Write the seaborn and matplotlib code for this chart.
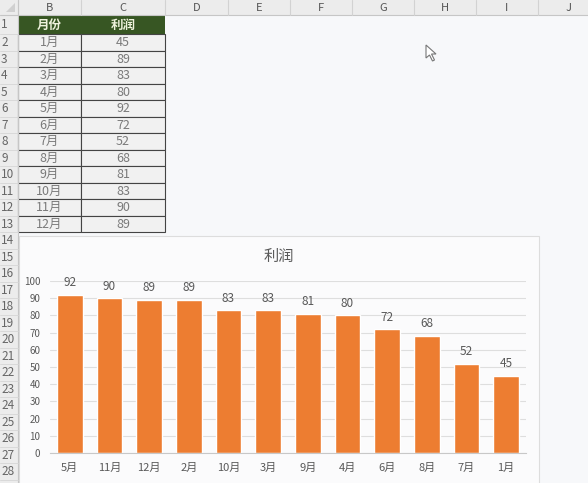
import numpy as np
import pandas as pd
import matplotlib
matplotlib.use("Agg")
import matplotlib.pyplot as plt
from matplotlib.patches import Rectangle, Polygon
import seaborn as sns

# ---------------- data ----------------
months = ["1月", "2月", "3月", "4月", "5月", "6月", "7月", "8月", "9月", "10月", "11月", "12月"]
profits = [45, 89, 83, 80, 92, 72, 52, 68, 81, 83, 90, 89]
chart_order = ["5月", "11月", "12月", "2月", "10月", "3月", "9月", "4月", "6月", "8月", "7月", "1月"]
header_labels = ["月份", "利润"]
col_letters = ["B", "C", "D", "E", "F", "G", "H", "I", "J"]
chart_title = "利润"
y_ticks = [0, 10, 20, 30, 40, 50, 60, 70, 80, 90, 100]

sns.set_theme(style="white")
plt.rcParams['font.family'] = ['Noto Sans CJK SC', 'DejaVu Sans']

W, H = 588, 483
fig = plt.figure(figsize=(W / 100, H / 100), dpi=100)
fig.patch.set_facecolor("#f7f8fa")

# ---------------- spreadsheet backdrop ----------------
bg = fig.add_axes([0, 0, 1, 1])
bg.set_xlim(0, W)
bg.set_ylim(H, 0)
bg.axis('off')

col_edges = [18, 81, 165, 228, 290, 352, 414, 476, 538, 600]
hdr_h = 15
row_edges = [15, 34] + [34 + 16.5 * k for k in range(1, 29)]

# column header
bg.add_patch(Rectangle((0, 0), W, hdr_h, facecolor="#ececec", edgecolor="none"))
bg.plot([0, W], [hdr_h, hdr_h], color="#c6c6c6", lw=0.8)
for xe in col_edges:
    bg.plot([xe, xe], [0, hdr_h], color="#d2d2d2", lw=0.8)
for i, letter in enumerate(col_letters):
    xc = (col_edges[i] + col_edges[i + 1]) / 2
    bg.text(xc, hdr_h / 2 + 0.5, letter, ha="center", va="center", fontsize=8, color="#555555")
bg.add_patch(Polygon([[15, 3], [15, 12], [6, 12]], closed=True, facecolor="#d0d0d0", edgecolor="none"))

# row header
bg.add_patch(Rectangle((0, hdr_h), 18, H - hdr_h, facecolor="#ececec", edgecolor="none"))
bg.plot([18, 18], [0, H], color="#c6c6c6", lw=0.8)
for r in range(len(row_edges) - 1):
    y0, y1 = row_edges[r], row_edges[r + 1]
    if y0 > H:
        break
    bg.plot([0, 18], [y1, y1], color="#d6d6d6", lw=0.6)
    if (y0 + y1) / 2 + 6 < H:
        bg.text(1, (y0 + y1) / 2 + 0.5, str(r + 1), ha="left", va="center",
                fontsize=8.5, color="#666666")

# data table B1:C13
bx = col_edges[:3]
bg.add_patch(Rectangle((bx[0], row_edges[0]), bx[2] - bx[0], row_edges[1] - row_edges[0],
                       facecolor="#375623", edgecolor="none"))
for j, lab in enumerate(header_labels):
    bg.text((bx[j] + bx[j + 1]) / 2, (row_edges[0] + row_edges[1]) / 2 + 0.5, lab,
            ha="center", va="center", fontsize=9, fontweight="bold", color="#eef2dc")
for i, (m, p) in enumerate(zip(months, profits)):
    y0, y1 = row_edges[i + 1], row_edges[i + 2]
    for j, val in enumerate([m, str(p)]):
        bg.add_patch(Rectangle((bx[j], y0), bx[j + 1] - bx[j], y1 - y0,
                               facecolor="#f1f1f1", edgecolor="#444444", lw=0.8))
        bg.text((bx[j] + bx[j + 1]) / 2, (y0 + y1) / 2 + 0.5, val,
                ha="center", va="center", fontsize=9, color="#7a7a7a")

# mouse cursor
bg.add_patch(Polygon([[426, 45], [426, 58], [429.5, 55], [432.5, 61], [434.5, 60],
                      [431.5, 54], [436, 54]], closed=True,
                     facecolor="white", edgecolor="#777777", lw=0.8))

# chart area
bg.add_patch(Rectangle((19, 236), 520, 260, facecolor="#fbfbfc", edgecolor="#dddddd", lw=0.8))
bg.text(279, 256, chart_title, ha="center", va="center", fontsize=11, color="#595959")

# ---------------- bar chart ----------------
df = pd.DataFrame({"月份": months, "利润": profits})
ax = fig.add_axes([50 / W, 1 - 453 / H, 476 / W, 172 / H])
ax.patch.set_alpha(0)
sns.barplot(data=df, x="月份", y="利润", order=chart_order, color="#ED7D31",
            saturation=1, width=0.65, ax=ax, errorbar=None)
ax.set_ylim(0, 100)
ax.set_yticks(y_ticks)
ax.yaxis.grid(True, color="#dedede", lw=0.8)
ax.set_axisbelow(True)
for s in ["top", "right", "left"]:
    ax.spines[s].set_visible(False)
ax.spines["bottom"].set_color("#c8c8c8")
ax.spines["bottom"].set_linewidth(0.8)
ax.set_xlabel("")
ax.set_ylabel("")
ax.tick_params(axis='y', length=0, pad=7, labelsize=7, labelcolor="#595959")
ax.tick_params(axis='x', length=0, pad=7, labelsize=8, labelcolor="#595959")
ax.bar_label(ax.containers[0], padding=4, fontsize=8.5, color="#595959")

fig.savefig("out.png", dpi=100, facecolor=fig.get_facecolor())
